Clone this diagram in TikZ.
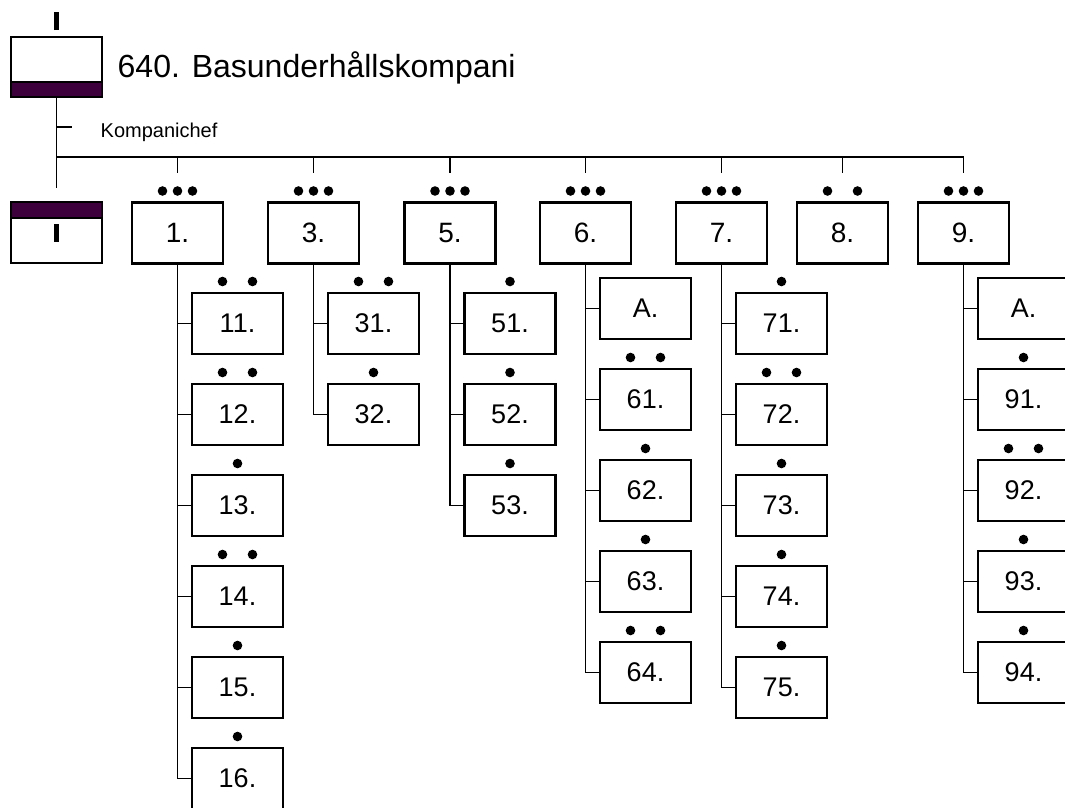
\documentclass[tikz,border=0pt]{standalone}
\usepackage{fontspec}
\setmainfont{Liberation Sans}
\definecolor{unitbar}{RGB}{62,0,60}
\newcommand{\onedot}[1]{\fill ([yshift=11.5pt]#1.north) circle (4.8pt);}
\newcommand{\twodots}[1]{\fill ([xshift=-15pt,yshift=11.5pt]#1.north) circle (4.8pt) ([xshift=15pt,yshift=11.5pt]#1.north) circle (4.8pt);}
\newcommand{\threedots}[1]{\fill ([xshift=-15pt,yshift=11.5pt]#1.north) circle (4.8pt) ([yshift=11.5pt]#1.north) circle (4.8pt) ([xshift=15pt,yshift=11.5pt]#1.north) circle (4.8pt);}

\begin{document}
\begin{tikzpicture}[x=1pt,y=-1pt,line width=1.4pt,
	box/.style={draw,line width=2.2pt,outer sep=0pt,inner sep=0pt,minimum width=91pt,minimum height=61pt,font=\fontsize{27}{27}\selectfont},
	coy/.style={box,font=\fontsize{28}{28}\selectfont}]
		\useasboundingbox (0,0) rectangle (1065,807);
		\node (hq) [box,minimum height=60pt] at (56.5,67) {};
		\draw[line width=2.2pt,fill=unitbar] ([yshift=15pt]hq.south west) rectangle (hq.south east);
		\draw[line width=4.5pt] ([yshift=7pt]hq.north) -- ([yshift=25pt]hq.north);
		\node (title) [anchor=base west,inner sep=0pt,font=\fontsize{32}{32}\selectfont] at (117,77) {640. Basunderhållskompani};
		\node (kc) [anchor=base west,inner sep=0pt,font=\fontsize{20}{20}\selectfont] at (100,137) {Kompanichef};
		\coordinate (kct) at ([yshift=10pt]kc.base west);
		\node (pl) [box] at (56.5,232.5) {};
		\draw[line width=2.2pt,fill=unitbar] (pl.north west) rectangle ([yshift=-16pt]pl.north east);
		\draw[line width=4.5pt] ([yshift=-9pt]pl.center) -- ([yshift=9pt]pl.center);
		\draw (hq.south) -- ([yshift=14pt]pl.north);
		\draw (kct -| hq.south) -- ([xshift=-28pt]kct);

		\node (c1) [coy] at (177.5,233) {1.};
		\node (c3) [coy] at (313.5,233) {3.};
		\node (c5) [coy] at (450,233) {5.};
		\node (c6) [coy] at (585.5,233) {6.};
		\node (c7) [coy] at (721.5,233) {7.};
		\node (c8) [coy] at (842.5,233) {8.};
		\node (c9) [coy] at (963.5,233) {9.};
		\coordinate (bus) at (56.5,157);
		\draw (bus) -- (bus -| c9);
		\draw (bus -| c1) -- ([yshift=30pt]c1.north);
		\draw (bus -| c3) -- ([yshift=30pt]c3.north);
		\draw (bus -| c5) -- ([yshift=30pt]c5.north);
		\draw (bus -| c6) -- ([yshift=30pt]c6.north);
		\draw (bus -| c7) -- ([yshift=30pt]c7.north);
		\draw (bus -| c8) -- ([yshift=30pt]c8.north);
		\draw (bus -| c9) -- ([yshift=30pt]c9.north);
		\threedots{c1} \threedots{c3} \threedots{c5} \threedots{c6} \threedots{c7} \twodots{c8} \threedots{c9}

		\node (c11) [box] at (237.5,323.5) {11.};
		\node (c12) [box] at (237.5,414.5) {12.};
		\node (c13) [box] at (237.5,505.5) {13.};
		\node (c14) [box] at (237.5,596.5) {14.};
		\node (c15) [box] at (237.5,687.5) {15.};
		\node (c16) [box] at (237.5,778.5) {16.};
		\draw (c1) |- (c16);
		\draw (c1 |- c11) -- (c11);
		\draw (c1 |- c12) -- (c12);
		\draw (c1 |- c13) -- (c13);
		\draw (c1 |- c14) -- (c14);
		\draw (c1 |- c15) -- (c15);
		\twodots{c11} \twodots{c12} \onedot{c13} \twodots{c14} \onedot{c15} \onedot{c16}

		\node (c31) [box] at (373.5,323.5) {31.};
		\node (c32) [box] at (373.5,414.5) {32.};
		\draw (c3) |- (c32);
		\draw (c3 |- c31) -- (c31);
		\twodots{c31} \onedot{c32}

		\node (c51) [box] at (510,323.5) {51.};
		\node (c52) [box] at (510,414.5) {52.};
		\node (c53) [box] at (510,505.5) {53.};
		\draw (c5) |- (c53);
		\draw (c5 |- c51) -- (c51);
		\draw (c5 |- c52) -- (c52);
		\onedot{c51} \onedot{c52} \onedot{c53}

		\node (c6a) [box] at (645.5,308.5) {A.};
		\node (c61) [box] at (645.5,399.5) {61.};
		\node (c62) [box] at (645.5,490.5) {62.};
		\node (c63) [box] at (645.5,581.5) {63.};
		\node (c64) [box] at (645.5,672.5) {64.};
		\draw (c6) |- (c64);
		\draw (c6 |- c6a) -- (c6a);
		\draw (c6 |- c61) -- (c61);
		\draw (c6 |- c62) -- (c62);
		\draw (c6 |- c63) -- (c63);
		\twodots{c61} \onedot{c62} \onedot{c63} \twodots{c64}

		\node (c71) [box] at (781.5,323.5) {71.};
		\node (c72) [box] at (781.5,414.5) {72.};
		\node (c73) [box] at (781.5,505.5) {73.};
		\node (c74) [box] at (781.5,596.5) {74.};
		\node (c75) [box] at (781.5,687.5) {75.};
		\draw (c7) |- (c75);
		\draw (c7 |- c71) -- (c71);
		\draw (c7 |- c72) -- (c72);
		\draw (c7 |- c73) -- (c73);
		\draw (c7 |- c74) -- (c74);
		\onedot{c71} \twodots{c72} \onedot{c73} \onedot{c74} \onedot{c75}

		\node (c9a) [box] at (1023.5,308.5) {A.};
		\node (c91) [box] at (1023.5,399.5) {91.};
		\node (c92) [box] at (1023.5,490.5) {92.};
		\node (c93) [box] at (1023.5,581.5) {93.};
		\node (c94) [box] at (1023.5,672.5) {94.};
		\draw (c9) |- (c94);
		\draw (c9 |- c9a) -- (c9a);
		\draw (c9 |- c91) -- (c91);
		\draw (c9 |- c92) -- (c92);
		\draw (c9 |- c93) -- (c93);
		\onedot{c91} \twodots{c92} \onedot{c93} \onedot{c94}
	\end{tikzpicture}
\end{document}
